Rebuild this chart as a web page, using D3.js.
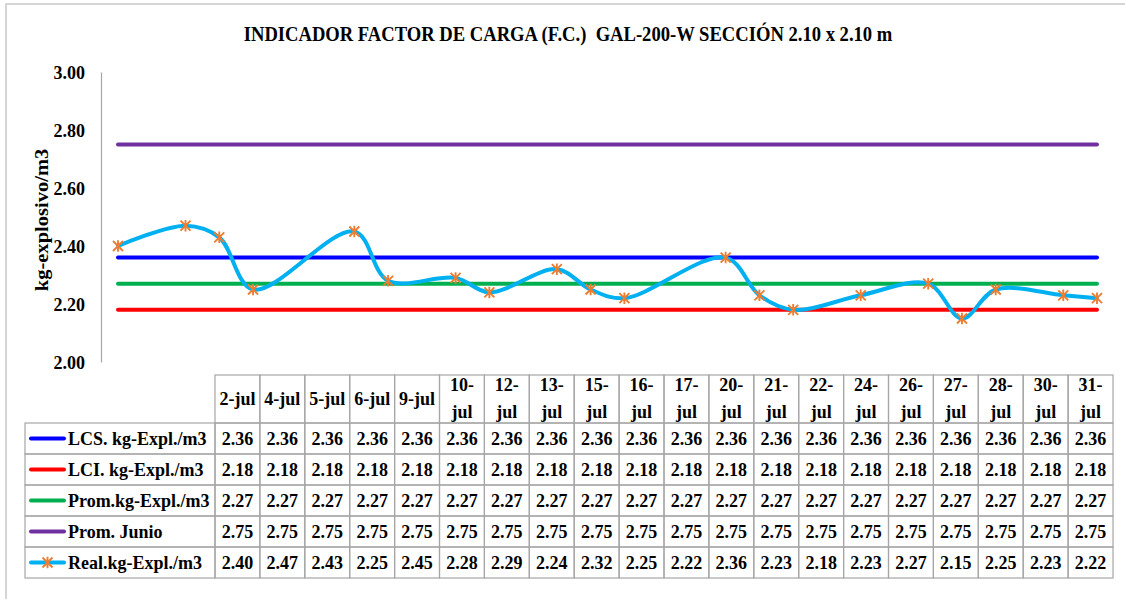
<!DOCTYPE html>
<html>
<head>
<meta charset="utf-8">
<script src="https://cdn.jsdelivr.net/npm/d3@7"></script>
<style>
  body { margin: 0; background: #fff; }
  svg text { font-family: "Liberation Serif", "Times New Roman", serif; font-weight: bold; fill: #000; white-space: pre; }
</style>
</head>
<body>
<svg id="chart" width="1125" height="599"></svg>
<script>
// Fechas de voladura (julio)
const fechas = ["2-jul","4-jul","5-jul","6-jul","9-jul","10-jul","12-jul","13-jul","15-jul","16-jul",
                "17-jul","20-jul","21-jul","22-jul","24-jul","26-jul","27-jul","28-jul","30-jul","31-jul"];

// Series (kg de explosivo por m3)
const lcs   = [2.36,2.36,2.36,2.36,2.36,2.36,2.36,2.36,2.36,2.36,2.36,2.36,2.36,2.36,2.36,2.36,2.36,2.36,2.36,2.36];
const lci   = [2.18,2.18,2.18,2.18,2.18,2.18,2.18,2.18,2.18,2.18,2.18,2.18,2.18,2.18,2.18,2.18,2.18,2.18,2.18,2.18];
const prom  = [2.27,2.27,2.27,2.27,2.27,2.27,2.27,2.27,2.27,2.27,2.27,2.27,2.27,2.27,2.27,2.27,2.27,2.27,2.27,2.27];
const junio = [2.75,2.75,2.75,2.75,2.75,2.75,2.75,2.75,2.75,2.75,2.75,2.75,2.75,2.75,2.75,2.75,2.75,2.75,2.75,2.75];
const real  = [2.40,2.47,2.43,2.25,2.45,2.28,2.29,2.24,2.32,2.25,2.22,2.36,2.23,2.18,2.23,2.27,2.15,2.25,2.23,2.22];

const nombres = ["LCS. kg-Expl./m3","LCI. kg-Expl./m3","Prom.kg-Expl./m3","Prom. Junio","Real.kg-Expl./m3"];
const yTicks  = [2.00, 2.20, 2.40, 2.60, 2.80, 3.00];

const titulo = "INDICADOR FACTOR DE CARGA (F.C.)  GAL-200-W SECCIÓN 2.10 x 2.10 m";
const tituloY = "kg-explosivo/m3";

// Estilos de cada serie
const colores = ["#0000ff", "#ff0000", "#00b050", "#7030a0", "#00b0f0"];
const colorMarca = "#ed7d31";

const series = [lcs, lci, prom, junio, real].map((valores, i) => ({
  nombre: nombres[i], color: colores[i], valores, marcas: i === 4
}));

const dia = f => parseInt(f, 10);

const svg = d3.select("#chart");

// Texto con estiramiento vertical alrededor de su línea base
function texto(g, xx, yy, sy) {
  return g.append("g")
    .attr("transform", `translate(${xx},${yy}) scale(1,${sy})`)
    .append("text").attr("x", 0).attr("y", 0);
}

// Marco exterior
svg.append("rect")
  .attr("x", 6).attr("y", 4).attr("width", 1130).attr("height", 610)
  .attr("fill", "none").attr("stroke", "#c8c8c8").attr("stroke-width", 1.5);

// Título
texto(svg, 568, 41, 1.14)
  .attr("text-anchor", "middle")
  .style("font-size", "18.6px")
  .text(titulo);

// Escalas
const x = d3.scaleLinear()
  .domain([dia(fechas[0]), dia(fechas[fechas.length - 1])])
  .range([118, 1097]);
const y = d3.scaleLinear().domain([2, 3]).range([362, 72]);

// Eje Y
const ejeY = svg.append("g")
  .attr("transform", "translate(101,0)")
  .call(d3.axisLeft(y).tickValues(yTicks).tickFormat(d3.format(".2f")).tickSize(0).tickPadding(16));
ejeY.select(".domain").attr("stroke", "#a6a6a6").attr("stroke-width", 1.2);
ejeY.selectAll(".tick text")
  .attr("transform", "scale(1,1.08)")
  .style("font-size", "18px")
  .style("font-family", "'Liberation Serif', 'Times New Roman', serif")
  .style("font-weight", "bold")
  .attr("fill", "#000");

svg.append("text")
  .attr("transform", "translate(48,220) rotate(-90) scale(1.14,1)")
  .attr("text-anchor", "middle")
  .style("font-size", "18px")
  .text(tituloY);

// Líneas
const linea = d3.line()
  .x((d, i) => x(dia(fechas[i])))
  .y(d => y(d));

const lineaSuave = d3.line()
  .x((d, i) => x(dia(fechas[i])))
  .y(d => y(d))
  .curve(d3.curveCatmullRom.alpha(0.5));

const plot = svg.append("g");
series.forEach(s => {
  plot.append("path")
    .datum(s.valores)
    .attr("d", s.marcas ? lineaSuave : linea)
    .attr("fill", "none")
    .attr("stroke", s.color)
    .attr("stroke-width", 4)
    .attr("stroke-linecap", "round")
    .attr("stroke-linejoin", "round");
});

// Marca tipo asterisco
function asterisco(r) {
  return `M${-r},${-r}L${r},${r}M${-r},${r}L${r},${-r}M0,${-r * 1.15}L0,${r * 1.15}`;
}

const real_s = series[4];
plot.selectAll(".marca")
  .data(real_s.valores)
  .join("path")
  .attr("class", "marca")
  .attr("transform", (d, i) => `translate(${x(dia(fechas[i]))},${y(d)})`)
  .attr("d", asterisco(5))
  .attr("fill", "none")
  .attr("stroke", colorMarca)
  .attr("stroke-width", 1.9);

// Tabla de datos
const colX = d3.scaleBand().domain(fechas).range([215, 1113]);
const headTop = 375, headBot = 423, rowH = 31;
const legLeft = 25;
const bordeColor = "#a6a6a6";
const sy = 1.08;
const tabla = svg.append("g");

// Encabezados
fechas.forEach(f => {
  const cx = colX(f), w = colX.bandwidth();
  tabla.append("rect")
    .attr("x", cx).attr("y", headTop).attr("width", w).attr("height", headBot - headTop)
    .attr("fill", "none").attr("stroke", bordeColor).attr("stroke-width", 1.2);
  if (dia(f) >= 10) {
    const partes = f.split("-");
    texto(tabla, cx + w / 2, 391, sy).attr("text-anchor", "middle").style("font-size", "18px").text(partes[0] + "-");
    texto(tabla, cx + w / 2, 418, sy).attr("text-anchor", "middle").style("font-size", "18px").text(partes[1]);
  } else {
    texto(tabla, cx + w / 2, 405, sy).attr("text-anchor", "middle").style("font-size", "18px").text(f);
  }
});

// Filas
series.forEach((s, r) => {
  const top = headBot + r * rowH;
  tabla.append("rect")
    .attr("x", legLeft).attr("y", top).attr("width", 215 - legLeft).attr("height", rowH)
    .attr("fill", "none").attr("stroke", bordeColor).attr("stroke-width", 1.2);
  tabla.append("line")
    .attr("x1", 31).attr("x2", 64).attr("y1", top + rowH / 2).attr("y2", top + rowH / 2)
    .attr("stroke", s.color).attr("stroke-width", 4).attr("stroke-linecap", "round");
  if (s.marcas) {
    tabla.append("path")
      .attr("transform", `translate(47.5,${top + rowH / 2})`)
      .attr("d", asterisco(5))
      .attr("fill", "none").attr("stroke", colorMarca).attr("stroke-width", 1.9);
  }
  texto(tabla, 68, top + rowH / 2 + 6.5, sy)
    .style("font-size", "18px")
    .text(s.nombre);

  s.valores.forEach((v, i) => {
    const cx = colX(fechas[i]), w = colX.bandwidth();
    tabla.append("rect")
      .attr("x", cx).attr("y", top).attr("width", w).attr("height", rowH)
      .attr("fill", "none").attr("stroke", bordeColor).attr("stroke-width", 1.2);
    texto(tabla, cx + w / 2, top + rowH / 2 + 6.5, sy)
      .attr("text-anchor", "middle")
      .style("font-size", "18px")
      .text(d3.format(".2f")(v));
  });
});
</script>
</body>
</html>
